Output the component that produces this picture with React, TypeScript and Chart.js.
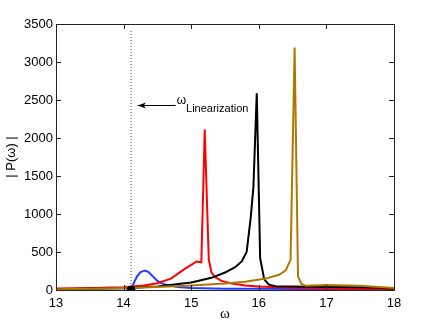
import React, { useEffect, useRef } from 'react';
import { Chart, registerables } from 'chart.js';

Chart.register(...registerables);

// ---- tick labels ----
const xTicks = [13, 14, 15, 16, 17, 18];
const yTicks = [0, 500, 1000, 1500, 2000, 2500, 3000, 3500];

// ---- series (omega, |P(omega)|) ----
const blueX = [14.11, 14.15, 14.2, 14.25, 14.32, 14.37, 14.42, 14.5, 14.6, 14.8, 15.0, 15.5, 16, 17, 18];
const blueY = [0, 90, 180, 235, 255, 235, 190, 120, 75, 40, 25, 18, 15, 12, 10];

const redX = [13, 13.5, 14, 14.3, 14.5, 14.7, 14.9, 15.0, 15.08, 15.15, 15.2, 15.26, 15.3, 15.35, 15.45, 15.6, 15.8, 16, 16.5, 17, 17.5, 18];
const redY = [20, 25, 35, 60, 90, 150, 275, 330, 375, 365, 2110, 400, 230, 170, 120, 85, 60, 45, 30, 20, 15, 10];

const blackX = [13, 13.5, 14, 14.5, 15, 15.3, 15.5, 15.65, 15.75, 15.82, 15.88, 15.92, 15.97, 16.02, 16.08, 16.15, 16.25, 16.5, 17, 17.5, 18];
const blackY = [10, 15, 22, 45, 100, 160, 230, 300, 380, 500, 950, 1350, 2590, 420, 140, 70, 50, 45, 40, 35, 20];

const goldX = [13, 13.5, 14, 14.5, 15, 15.5, 15.8, 16.1, 16.3, 16.4, 16.47, 16.53, 16.58, 16.63, 16.7, 17, 17.5, 18];
const goldY = [10, 15, 25, 40, 60, 85, 110, 150, 200, 260, 400, 3190, 180, 80, 55, 65, 55, 25];

// ---- linearization marker & annotation ----
const linearizationX = 14.11;
const linearizationTop = 3420;
const arrowTipX = 14.21;
const arrowTailX = 14.77;
const arrowY = 2430;
const annotationMain = 'ω';
const annotationSub = 'Linearization';

const pts = (xs: number[], ys: number[]) => xs.map((x, i) => ({ x, y: ys[i] }));

const framePlugin = {
  id: 'frame',
  afterDraw(chart: any) {
    const { ctx, chartArea: a, scales } = chart;
    const xs = scales.x;
    const ys = scales.y;
    ctx.save();
    ctx.strokeStyle = '#222';
    ctx.lineWidth = 1;
    ctx.beginPath();
    ctx.rect(Math.round(a.left) + 0.5, Math.round(a.top) + 0.5, Math.round(a.right - a.left), Math.round(a.bottom - a.top));
    ctx.stroke();
    const tl = 5;
    ctx.beginPath();
    xTicks.forEach((v) => {
      const px = Math.round(xs.getPixelForValue(v)) + 0.5;
      ctx.moveTo(px, a.top); ctx.lineTo(px, a.top + tl);
      ctx.moveTo(px, a.bottom); ctx.lineTo(px, a.bottom - tl);
    });
    yTicks.forEach((v) => {
      const py = Math.round(ys.getPixelForValue(v)) + 0.5;
      ctx.moveTo(a.left, py); ctx.lineTo(a.left + tl, py);
      ctx.moveTo(a.right, py); ctx.lineTo(a.right - tl, py);
    });
    ctx.stroke();

    // annotation arrow
    const tipX = xs.getPixelForValue(arrowTipX);
    const tailX = xs.getPixelForValue(arrowTailX);
    const ay = Math.round(ys.getPixelForValue(arrowY)) + 0.5;
    ctx.strokeStyle = '#000';
    ctx.beginPath();
    ctx.moveTo(tailX, ay); ctx.lineTo(tipX, ay);
    ctx.stroke();
    ctx.fillStyle = '#000';
    ctx.beginPath();
    ctx.moveTo(tipX, ay);
    ctx.lineTo(tipX + 8, ay - 3);
    ctx.lineTo(tipX + 6, ay);
    ctx.lineTo(tipX + 8, ay + 3);
    ctx.closePath();
    ctx.fill();

    ctx.textBaseline = 'alphabetic';
    ctx.textAlign = 'left';
    ctx.font = '12px "Liberation Sans"';
    ctx.fillText(annotationMain, tailX + 1, ay - 2);
    const w = ctx.measureText(annotationMain).width;
    ctx.font = '11px "Liberation Sans"';
    ctx.fillText(annotationSub, tailX + 1 + w, ay + 6);
    ctx.restore();
  },
};

export default function App() {
  const ref = useRef<HTMLCanvasElement | null>(null);
  useEffect(() => {
    if (!ref.current) return;
    const chart = new Chart(ref.current, {
      type: 'line',
      data: {
        datasets: [
          {
            label: 'marker',
            data: [{ x: linearizationX, y: 0 }],
            showLine: false,
            pointRadius: 4,
            pointBackgroundColor: '#000',
            pointBorderColor: '#000',
            order: 0,
          },
          { label: 'gold', data: pts(goldX, goldY), borderColor: '#b07800', borderWidth: 2, pointRadius: 0, order: 1 },
          { label: 'black', data: pts(blackX, blackY), borderColor: '#000000', borderWidth: 2, pointRadius: 0, order: 2 },
          { label: 'red', data: pts(redX, redY), borderColor: '#ff0000', borderWidth: 2, pointRadius: 0, order: 3 },
          { label: 'blue', data: pts(blueX, blueY), borderColor: '#1f3cff', borderWidth: 2, pointRadius: 0, order: 4 },
          {
            label: 'linearization',
            data: [{ x: linearizationX, y: 0 }, { x: linearizationX, y: linearizationTop }],
            borderColor: '#444',
            borderWidth: 1,
            borderDash: [1, 2],
            pointRadius: 0,
            order: 5,
          },
        ],
      },
      options: {
        animation: false,
        responsive: true,
        maintainAspectRatio: false,
        layout: { padding: { top: 24, right: 42, left: 0, bottom: 0 } },
        plugins: { legend: { display: false }, tooltip: { enabled: false } },
        elements: { line: { tension: 0 } },
        scales: {
          x: {
            type: 'linear',
            min: 13,
            max: 18,
            afterBuildTicks: (s: any) => { s.ticks = xTicks.map((v) => ({ value: v })); },
            afterFit: (s: any) => { s.height = 38; },
            grid: { display: true, drawOnChartArea: false, drawTicks: false },
            border: { display: false },
            ticks: { color: '#000', font: { family: 'Liberation Sans', size: 13 }, padding: 6, maxRotation: 0, callback: (v: any) => String(v) },
            title: { display: true, text: 'ω', color: '#000', font: { family: 'Liberation Serif', size: 15 }, padding: { top: 0, bottom: 5 } },
          },
          y: {
            type: 'linear',
            min: 0,
            max: 3500,
            afterBuildTicks: (s: any) => { s.ticks = yTicks.map((v) => ({ value: v })); },
            afterFit: (s: any) => { s.width = 56; },
            grid: { display: true, drawOnChartArea: false, drawTicks: false },
            border: { display: false },
            ticks: { color: '#000', font: { family: 'Liberation Sans', size: 13 }, padding: 3, callback: (v: any) => String(v) },
            title: { display: true, text: '| P(ω) |', color: '#000', font: { family: 'Liberation Sans', size: 13 }, padding: { top: 4, bottom: 0 } },
          },
        },
      },
      plugins: [framePlugin],
    });
    return () => chart.destroy();
  }, []);
  return (
    <div style={{ position: 'fixed', left: 0, top: 0, width: 436, height: 328, background: '#fff' }}>
      <canvas ref={ref} />
    </div>
  );
}
